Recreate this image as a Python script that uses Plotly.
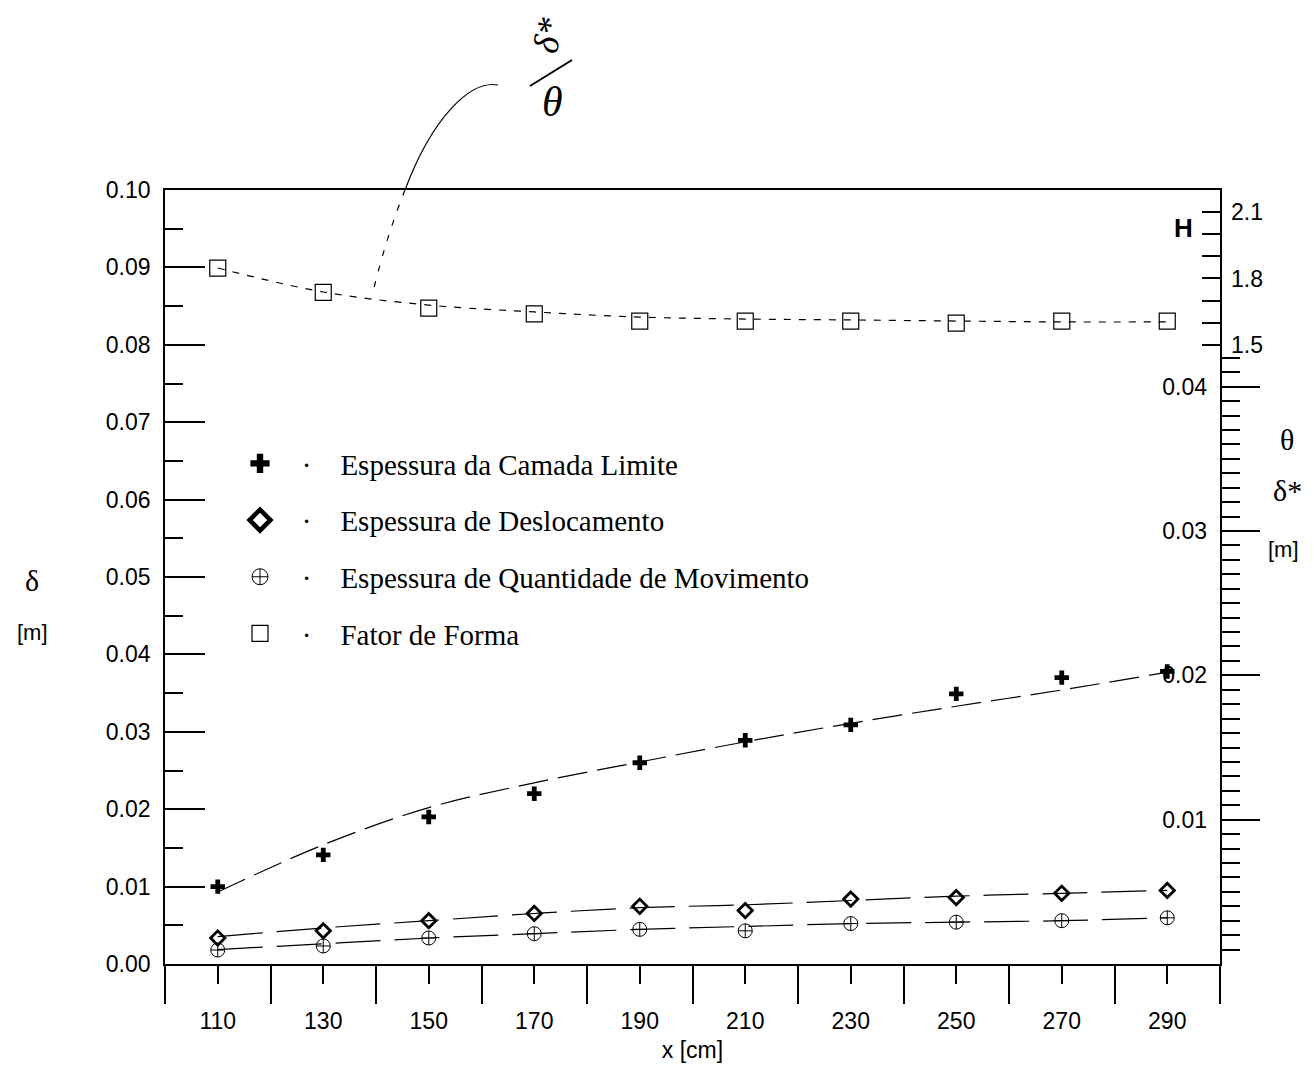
import plotly.graph_objects as go

# ---------------- data ----------------
x_cm = [110, 130, 150, 170, 190, 210, 230, 250, 270, 290]

# boundary-layer thickness delta [m] (left axis)
delta = [0.0100, 0.0141, 0.0190, 0.0220, 0.0260, 0.0289, 0.0309, 0.0349, 0.0370, 0.0378]
delta_fit = [0.0093, 0.0154, 0.0202, 0.0234, 0.0261, 0.0287, 0.0311, 0.0333, 0.0354, 0.0377]

# displacement thickness delta* [m] (right axis)
dstar = [0.0018, 0.0023, 0.0030, 0.0035, 0.0040, 0.0037, 0.0045, 0.0046, 0.0049, 0.0051]
dstar_fit = [0.0019, 0.0025, 0.0030, 0.0035, 0.0039, 0.0041, 0.0044, 0.0047, 0.0049, 0.0051]

# momentum thickness theta [m] (right axis)
theta = [0.00097, 0.00125, 0.0018, 0.0021, 0.0024, 0.0023, 0.0028, 0.0029, 0.0030, 0.0032]
theta_fit = [0.0010, 0.0014, 0.0018, 0.0021, 0.0024, 0.0026, 0.0028, 0.0029, 0.0030, 0.0032]

# shape factor H (upper right axis)
H = [1.847, 1.737, 1.666, 1.640, 1.608, 1.608, 1.608, 1.599, 1.608, 1.608]
H_fit = [1.847, 1.739, 1.680, 1.649, 1.626, 1.617, 1.613, 1.608, 1.604, 1.604]

legend_names = [
    "Espessura da Camada Limite",
    "Espessura de Deslocamento",
    "Espessura de Quantidade de Movimento",
    "Fator de Forma",
]

x_major = [110, 130, 150, 170, 190, 210, 230, 250, 270, 290]
x_minor = [100, 120, 140, 160, 180, 200, 220, 240, 260, 280, 300]
y_major = [0.00, 0.01, 0.02, 0.03, 0.04, 0.05, 0.06, 0.07, 0.08, 0.09, 0.10]
y_minor = [0.005, 0.015, 0.025, 0.035, 0.045, 0.055, 0.065, 0.075, 0.085, 0.095]
th_major = [0.01, 0.02, 0.03, 0.04]
th_minor = [i / 1000 for i in range(1, 43)]
th_range = [0, 0.05363]
h_major = [1.5, 1.8, 2.1]
h_minor = [1.6, 1.7, 1.9, 2.0]

SANS = "Liberation Sans, Arial, sans-serif"
SERIF = "Liberation Serif, Times New Roman, serif"

# plot area in pixels (for placing annotations)
L, R, T, B = 165, 1220, 190, 964


def px(X):
    return (X - L) / (R - L)


def py(Y):
    return (B - Y) / (B - T)


fig = go.Figure()

# fitted curves
fig.add_trace(go.Scatter(x=x_cm, y=delta_fit, mode="lines", yaxis="y",
                         line=dict(color="black", width=1.2, dash="30px,10px", shape="spline"),
                         showlegend=False, hoverinfo="skip"))
fig.add_trace(go.Scatter(x=x_cm, y=dstar_fit, mode="lines", yaxis="y2",
                         line=dict(color="black", width=1.2, dash="45px,14px", shape="spline"),
                         showlegend=False, hoverinfo="skip"))
fig.add_trace(go.Scatter(x=x_cm, y=theta_fit, mode="lines", yaxis="y4",
                         line=dict(color="black", width=1.2, dash="45px,14px", shape="spline"),
                         showlegend=False, hoverinfo="skip"))
fig.add_trace(go.Scatter(x=x_cm, y=H_fit, mode="lines", yaxis="y3",
                         line=dict(color="black", width=1.2, dash="7px,8px", shape="spline"),
                         showlegend=False, hoverinfo="skip"))

# measured points
fig.add_trace(go.Scatter(x=x_cm, y=delta, mode="markers", yaxis="y", showlegend=False,
                         marker=dict(symbol="cross", size=12, color="black",
                                     line=dict(width=0))))
fig.add_trace(go.Scatter(x=x_cm, y=dstar, mode="markers", yaxis="y2", showlegend=False,
                         marker=dict(symbol="diamond-open", size=11, color="black",
                                     line=dict(width=2.8, color="black"))))
fig.add_trace(go.Scatter(x=x_cm, y=theta, mode="markers", yaxis="y4", showlegend=False,
                         marker=dict(symbol="circle-cross-open", size=14, color="black",
                                     line=dict(width=1, color="black"))))
fig.add_trace(go.Scatter(x=x_cm, y=H, mode="markers", yaxis="y3", showlegend=False,
                         marker=dict(symbol="square-open", size=16, color="black",
                                     line=dict(width=1.2, color="black"))))

# legend entries
leg_markers = [
    dict(symbol="cross", size=16, color="black", line=dict(width=0)),
    dict(symbol="diamond-open", size=16, color="black", line=dict(width=4.5, color="black")),
    dict(symbol="circle-cross-open", size=16, color="black", line=dict(width=1, color="black")),
    dict(symbol="square-open", size=16, color="black", line=dict(width=1.2, color="black")),
]
nb = "\u00a0"
for i, (nm, mk) in enumerate(zip(legend_names, leg_markers)):
    fig.add_trace(go.Scatter(x=[None], y=[None], mode="markers", marker=mk,
                             name=nb * 3 + "\u00b7" + nb * 4 + nm, legendgroup=f"g{i}",
                             showlegend=True))

axis_common = dict(showgrid=False, zeroline=False, color="black", automargin=False,
                   tickfont=dict(family=SANS, size=23, color="black"))

fig.update_layout(
    width=1314, height=1065,
    margin=dict(l=L, r=1314 - R, t=T, b=1065 - B),
    paper_bgcolor="white", plot_bgcolor="white",
    showlegend=True,
    legend=dict(x=px(240), y=py(438), xanchor="left", yanchor="top",
                font=dict(family=SERIF, size=29, color="black"),
                bgcolor="rgba(0,0,0,0)", tracegroupgap=16, traceorder="grouped",
                itemwidth=30),
    xaxis=dict(range=[100, 300], tickmode="array", tickvals=x_major,
               ticks="outside", ticklen=18, tickwidth=1.5, tickcolor="black",
               showline=True, linewidth=1.8, linecolor="black", mirror=True,
               ticklabelstandoff=17,
               minor=dict(tickmode="array", tickvals=x_minor, ticks="outside",
                          ticklen=38, tickwidth=1.5, tickcolor="black"),
               title=dict(text="x [cm]", font=dict(family=SANS, size=23, color="black"),
                          standoff=9),
               **axis_common),
    yaxis=dict(range=[0, 0.10], tickmode="array", tickvals=y_major, tickformat=".2f",
               ticks="inside", ticklen=40, tickwidth=1.5, tickcolor="black",
               showline=True, linewidth=1.8, linecolor="black",
               ticklabelstandoff=8,
               minor=dict(tickmode="array", tickvals=y_minor, ticks="inside",
                          ticklen=18, tickwidth=1.5, tickcolor="black"),
               **axis_common),
    # theta / delta* scale: ticks outside to the right, no labels here
    yaxis2=dict(overlaying="y", side="right", anchor="x", range=th_range,
                tickmode="array", tickvals=th_major, showticklabels=False,
                ticks="outside", ticklen=38, tickwidth=1.5, tickcolor="black",
                showline=True, linewidth=1.8, linecolor="black",
                minor=dict(tickmode="array", tickvals=th_minor, ticks="outside",
                           ticklen=18, tickwidth=1.5, tickcolor="black"),
                **axis_common),
    # same scale, labels drawn on the inner side of the right frame
    yaxis4=dict(overlaying="y", side="left", anchor="free", position=1, range=th_range,
                tickmode="array", tickvals=th_major, tickformat=".2f",
                ticks="", showline=False, ticklabelstandoff=13,
                **axis_common),
    yaxis3=dict(overlaying="y", side="right", anchor="x", range=[-1.292, 2.199],
                tickmode="array", tickvals=h_major, tickformat=".1f",
                ticks="inside", ticklen=18, tickwidth=1.5, tickcolor="black",
                ticklabelstandoff=10, showline=False,
                minor=dict(tickmode="array", tickvals=h_minor, ticks="inside",
                           ticklen=18, tickwidth=1.5, tickcolor="black"),
                **axis_common),
)

ann = [
    dict(text="δ", x=px(32), y=py(580), font=dict(family=SERIF, size=30)),
    dict(text="[m]", x=px(32), y=py(632), font=dict(family=SANS, size=22)),
    dict(text="<b>H</b>", x=px(1183), y=py(228), font=dict(family=SANS, size=26)),
    dict(text="θ", x=px(1287), y=py(440), font=dict(family=SERIF, size=30)),
    dict(text="δ*", x=px(1287), y=py(490), font=dict(family=SERIF, size=30)),
    dict(text="[m]", x=px(1283), y=py(549), font=dict(family=SANS, size=22)),
    dict(text="<i>δ*</i>", x=px(548), y=py(36), font=dict(family=SERIF, size=36), textangle=-80),
    dict(text="<i>θ</i>", x=px(552), y=py(102), font=dict(family=SERIF, size=42)),
]
for a in ann:
    a["font"]["color"] = "black"
    fig.add_annotation(xref="paper", yref="paper", showarrow=False,
                       xanchor="center", yanchor="middle", **a)

# hand-drawn pointer to the H curve and the fraction stroke
fig.add_shape(type="line", xref="paper", yref="paper",
              x0=px(530), y0=py(86), x1=px(572), y1=py(60),
              line=dict(color="black", width=2))
fig.add_shape(type="path", xref="paper", yref="paper",
              path=(f"M {px(498)},{py(85)} C {px(470)},{py(80)} {px(432)},{py(118)} "
                    f"{px(405)},{py(190)}"),
              line=dict(color="black", width=1.2))
fig.add_shape(type="path", xref="paper", yref="paper",
              path=(f"M {px(405)},{py(190)} C {px(395)},{py(215)} {px(383)},{py(250)} "
                    f"{px(373)},{py(292)}"),
              line=dict(color="black", width=1.2, dash="6px,10px"))

fig.write_html("out.html")
